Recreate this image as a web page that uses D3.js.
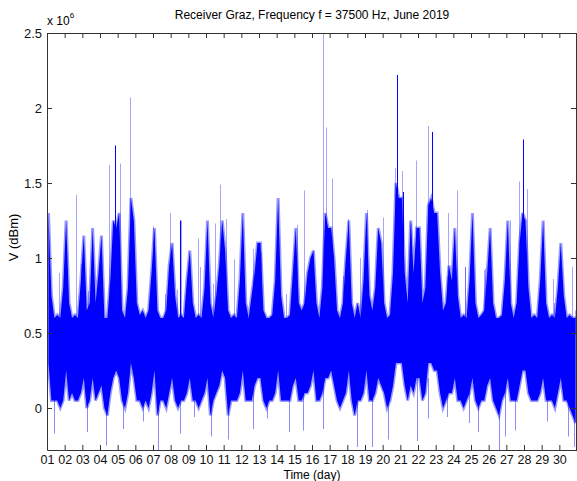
<!DOCTYPE html>
<html>
<head>
<meta charset="utf-8">
<script src="https://cdn.jsdelivr.net/npm/d3@7"></script>
<style>
  body { margin: 0; background: #fff; }
  svg { display: block; font-family: "Liberation Sans", Arial, sans-serif; }
  .axis path, .axis line { stroke: #333; }
  .axis text { fill: #111; }
</style>
</head>
<body>
<div id="chart"></div>
<script>
// day labels on the x axis
const days = d3.range(1, 31);
const yTicks = [0, 0.5, 1, 1.5, 2, 2.5];

// dense band envelope, 6 bins per day (x 1e6)
const bandHi = [
  1.30, 0.75, 0.60, 0.62, 0.60, 0.80,  // 01
  1.25, 0.70, 0.60, 0.62, 0.60, 0.85,  // 02
  1.15, 0.65, 0.70, 1.20, 0.70, 0.90,  // 03
  1.15, 0.60, 0.60, 0.85, 1.25, 1.20,  // 04
  1.30, 0.65, 0.60, 0.80, 1.40, 1.25,  // 05
  0.70, 0.62, 0.65, 0.60, 0.65, 0.90,  // 06
  1.20, 0.65, 0.60, 0.60, 0.65, 0.95,  // 07
  1.10, 0.75, 0.60, 0.62, 0.60, 0.85,  // 08
  1.05, 0.70, 0.60, 0.62, 0.60, 0.80,  // 09
  1.25, 0.70, 0.60, 0.75, 0.95, 1.25,  // 10
  1.05, 0.65, 0.60, 0.62, 0.60, 0.85,  // 11
  1.30, 0.70, 0.60, 0.75, 0.90, 1.10,  // 12
  1.10, 0.65, 0.60, 0.60, 0.62, 0.85,  // 13
  1.40, 0.75, 0.60, 0.60, 0.62, 0.90,  // 14
  1.20, 0.70, 0.65, 0.70, 0.90, 1.00,  // 15
  1.05, 0.70, 0.60, 0.80, 1.30, 1.20,  // 16
  1.20, 1.00, 0.65, 0.60, 0.70, 1.00,  // 17
  1.25, 0.70, 0.60, 0.70, 0.60, 0.85,  // 18
  1.30, 0.75, 0.65, 0.80, 1.20, 1.10,  // 19
  0.70, 0.60, 0.62, 0.90, 1.50, 1.40,  // 20
  1.40, 0.90, 0.70, 1.25, 0.90, 1.20,  // 21
  1.20, 0.70, 0.80, 1.35, 1.40, 1.30,  // 22
  1.30, 0.90, 0.65, 0.70, 0.95, 0.85,  // 23
  1.20, 0.75, 0.60, 0.62, 0.60, 0.85,  // 24
  1.30, 0.70, 0.60, 0.62, 0.65, 0.90,  // 25
  1.20, 0.70, 0.60, 0.60, 0.62, 0.85,  // 26
  1.25, 0.70, 0.60, 0.70, 1.10, 1.30,  // 27
  1.25, 0.80, 0.60, 0.62, 0.60, 0.85,  // 28
  1.25, 0.70, 0.60, 0.62, 0.60, 0.80,  // 29
  1.10, 0.75, 0.60, 0.62, 0.60, 0.60   // 30
];
const bandLo = [
  0.30, 0.05, 0.05, 0.05, 0.00, 0.05,
  0.25, 0.05, 0.10, 0.05, 0.05, 0.10,
  0.20, 0.00, 0.05, 0.20, 0.05, 0.10,
  0.15, 0.00, -0.05, 0.10, 0.20, 0.25,
  0.20, 0.05, 0.00, 0.10, 0.30, 0.20,
  0.05, 0.05, 0.00, 0.05, 0.00, 0.10,
  0.25, -0.05, 0.05, 0.05, 0.00, 0.10,
  0.20, 0.05, 0.00, 0.05, 0.05, 0.10,
  0.20, 0.05, 0.05, 0.00, 0.05, 0.10,
  0.20, -0.05, 0.05, 0.10, 0.15, 0.25,
  0.20, -0.05, 0.05, 0.05, 0.05, 0.10,
  0.25, 0.05, 0.05, 0.05, 0.15, 0.20,
  0.20, 0.05, 0.00, 0.05, 0.05, 0.10,
  0.25, 0.05, 0.05, 0.05, 0.05, 0.15,
  0.20, 0.05, 0.05, 0.10, 0.10, 0.15,
  0.25, 0.05, 0.05, 0.10, 0.20, 0.20,
  0.25, 0.15, 0.05, 0.00, 0.05, 0.10,
  0.25, 0.05, -0.05, 0.05, 0.05, 0.10,
  0.25, 0.05, 0.05, 0.10, 0.20, 0.15,
  0.10, 0.00, 0.05, 0.15, 0.30, 0.30,
  0.30, 0.15, 0.05, 0.15, 0.10, 0.20,
  0.20, 0.05, 0.10, 0.30, 0.30, 0.25,
  0.25, 0.10, 0.00, 0.05, 0.10, 0.10,
  0.20, 0.05, 0.05, 0.00, 0.05, 0.10,
  0.20, 0.05, 0.00, 0.05, 0.05, 0.15,
  0.20, 0.05, 0.00, -0.05, 0.05, 0.10,
  0.20, 0.05, 0.05, 0.05, 0.15, 0.25,
  0.25, 0.10, 0.05, 0.05, 0.05, 0.10,
  0.20, 0.05, 0.05, 0.05, 0.00, 0.10,
  0.20, 0.05, 0.05, 0.00, -0.05, -0.10
];

// single strong spikes [day, value]
const spikesDark = [
  [4.85, 1.75], [8.54, 1.25], [20.79, 2.22], [21.16, 1.44], [22.77, 1.84], [27.96, 1.79]
];
// faint spikes above the band [day, value]
const spikesLight = [
  [1.68, 0.90], [2.64, 1.42], [2.92, 0.96], [3.34, 0.78], [4.51, 1.62], [5.16, 1.63],
  [5.70, 2.07], [7.02, 1.21], [7.68, 0.76], [7.96, 1.30], [8.34, 0.79], [8.57, 1.25],
  [9.55, 1.13], [9.64, 0.94], [10.39, 0.83], [10.51, 1.23], [10.79, 1.49], [11.13, 1.26],
  [11.58, 0.99], [12.66, 1.06], [13.13, 1.04], [14.55, 0.76], [14.83, 0.69], [15.13, 1.22],
  [15.56, 1.45], [15.87, 0.96], [16.64, 2.50], [16.79, 1.87], [17.11, 1.53], [17.73, 0.88],
  [18.05, 1.26], [18.73, 1.00], [19.09, 1.32], [19.71, 1.16], [20.00, 1.27], [20.69, 1.60],
  [21.07, 1.58], [21.60, 1.23], [21.88, 1.65], [22.58, 1.88], [23.66, 0.88], [23.71, 1.30],
  [24.19, 1.45], [24.64, 0.94], [24.66, 0.94], [25.73, 0.92], [25.79, 0.93], [27.20, 1.25],
  [27.73, 1.51], [28.18, 1.46], [29.65, 0.86], [29.69, 0.70], [30.73, 0.94], [30.88, 0.65]
];
// faint dips below the band [day, value]
const dipsLight = [
  [1.40, -0.17], [3.24, -0.16], [4.34, -0.25], [5.28, -0.14], [6.42, -0.09], [7.30, -0.28],
  [8.54, -0.17], [9.32, -0.06], [10.26, -0.19], [11.23, -0.21], [12.68, -0.14], [13.47, -0.07],
  [14.68, -0.16], [15.51, -0.15], [16.64, -0.14], [18.53, -0.26], [19.38, -0.26], [20.32, -0.21],
  [21.96, -0.22], [22.58, -0.07], [23.62, -0.06], [24.90, -0.10], [25.37, -0.16], [26.58, -0.28],
  [26.92, -0.19], [27.49, -0.15], [29.28, -0.09], [30.50, -0.19], [30.82, -0.26]
];

const W = 577, H = 481;
const mLeft = 47, mRight = 577, mTop = 33, mBottom = 450;

const svg = d3.select("#chart").append("svg")
    .attr("width", W)
    .attr("height", H);

const x = d3.scaleLinear().domain([1, 31]).range([mLeft, mRight]);
const y = d3.scaleLinear().domain([-0.28, 2.5]).range([mBottom, mTop]);

svg.append("defs").append("clipPath").attr("id", "plot")
    .append("rect")
    .attr("x", mLeft).attr("y", mTop)
    .attr("width", mRight - mLeft).attr("height", mBottom - mTop);

const plot = svg.append("g").attr("clip-path", "url(#plot)");

const binT = i => 1 + (i + 0.5) / 6;
const band = bandHi.map((h, i) => ({ t: binT(i), hi: h, lo: bandLo[i] }));

const bandArea = d3.area()
    .x(d => x(d.t))
    .y0(d => y(d.lo))
    .y1(d => y(d.hi));

// soft edge first, then the solid core on top
plot.append("path")
    .datum(band)
    .attr("fill", "none")
    .attr("stroke", "#0000ff")
    .attr("stroke-opacity", 0.4)
    .attr("stroke-width", 3)
    .attr("d", bandArea);

plot.append("path")
    .datum(band)
    .attr("fill", "#0000ff")
    .attr("d", bandArea);

const px = t => Math.round(x(t)) + 0.5;

plot.selectAll(".up-light")
    .data(spikesLight)
    .enter().append("line")
    .attr("class", "up-light")
    .attr("x1", d => px(d[0]))
    .attr("x2", d => px(d[0]))
    .attr("y1", y(0.5))
    .attr("y2", d => y(d[1]))
    .attr("stroke", "#0000ff")
    .attr("stroke-opacity", 0.35);

plot.selectAll(".down-light")
    .data(dipsLight)
    .enter().append("line")
    .attr("class", "down-light")
    .attr("x1", d => px(d[0]))
    .attr("x2", d => px(d[0]))
    .attr("y1", y(0.2))
    .attr("y2", d => y(d[1]))
    .attr("stroke", "#0000ff")
    .attr("stroke-opacity", 0.45);

plot.selectAll(".up-dark")
    .data(spikesDark)
    .enter().append("line")
    .attr("class", "up-dark")
    .attr("x1", d => px(d[0]))
    .attr("x2", d => px(d[0]))
    .attr("y1", y(0.5))
    .attr("y2", d => y(d[1]))
    .attr("stroke", "#0000ff");

// axes box, MATLAB style with inward ticks
const fmtDay = d => String(d).padStart(2, "0");

svg.append("g").attr("class", "axis")
    .attr("transform", `translate(0,${mBottom})`)
    .call(d3.axisBottom(x).tickValues(days).tickFormat(fmtDay)
        .tickSizeInner(-5).tickSizeOuter(0).tickPadding(5))
    .call(g => g.selectAll("text").attr("font-size", 12.5));

svg.append("g").attr("class", "axis")
    .attr("transform", `translate(0,${mTop})`)
    .call(d3.axisTop(x).tickValues(days).tickFormat("")
        .tickSizeInner(-5).tickSizeOuter(0));

svg.append("g").attr("class", "axis")
    .attr("transform", `translate(${mLeft},0)`)
    .call(d3.axisLeft(y).tickValues(yTicks).tickFormat(d => d)
        .tickSizeInner(-5).tickSizeOuter(0).tickPadding(5))
    .call(g => g.selectAll("text").attr("font-size", 13));

svg.append("g").attr("class", "axis")
    .attr("transform", `translate(${mRight - 1},0)`)
    .call(d3.axisRight(y).tickValues(yTicks).tickFormat("")
        .tickSizeInner(-5).tickSizeOuter(0));

// labels
svg.append("text")
    .attr("x", 312).attr("y", 19)
    .attr("text-anchor", "middle")
    .attr("font-size", 12)
    .text("Receiver Graz, Frequency f = 37500 Hz, June 2019");

const expo = svg.append("text")
    .attr("x", mLeft).attr("y", 25)
    .attr("font-size", 12);
expo.append("tspan").text("x 10");
expo.append("tspan").attr("dy", -7).attr("font-size", 8).text("6");

svg.append("text")
    .attr("transform", `translate(18,${(mTop + mBottom) / 2 - 4}) rotate(-90)`)
    .attr("text-anchor", "middle")
    .attr("font-size", 13)
    .text("V (dBm)");

svg.append("text")
    .attr("x", 312).attr("y", 478.5)
    .attr("text-anchor", "middle")
    .attr("font-size", 12)
    .text("Time (day)");
</script>
</body>
</html>
